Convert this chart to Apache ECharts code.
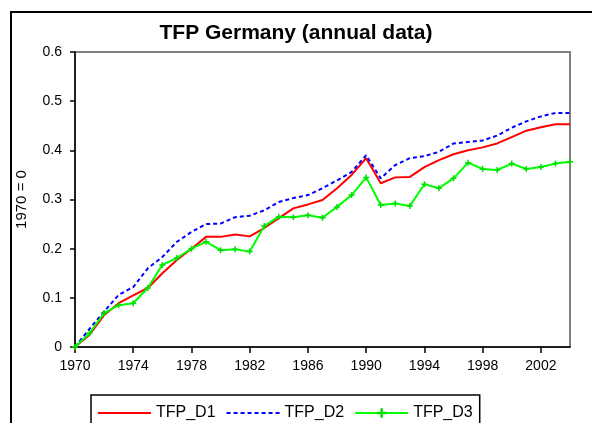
<!DOCTYPE html>
<html>
<head>
<meta charset="utf-8">
<script src="https://cdn.jsdelivr.net/npm/echarts@6/dist/echarts.min.js"></script>
<style>
html, body { margin: 0; padding: 0; background: #fff; }
#charts { width: 592px; height: 423px; }
</style>
</head>
<body>
<div id="charts"></div>
<script>
var years = [];
for (var y = 1970; y <= 2004; y++) years.push(String(y));

var tfpD1 = [0, 0.025, 0.065, 0.089, 0.105, 0.12, 0.15, 0.177, 0.20, 0.224,
	0.224, 0.229, 0.225, 0.242, 0.262, 0.282, 0.29, 0.299, 0.323, 0.35,
	0.384, 0.333, 0.345, 0.346, 0.366, 0.38, 0.392, 0.40, 0.406, 0.414,
	0.427, 0.44, 0.447, 0.453, 0.453];
var tfpD2 = [0, 0.037, 0.072, 0.106, 0.122, 0.16, 0.183, 0.214, 0.234, 0.25,
	0.251, 0.264, 0.267, 0.278, 0.295, 0.303, 0.309, 0.323, 0.339, 0.356,
	0.39, 0.343, 0.37, 0.384, 0.388, 0.397, 0.414, 0.417, 0.42, 0.43,
	0.446, 0.459, 0.469, 0.476, 0.476];
var tfpD3 = [0, 0.028, 0.069, 0.085, 0.089, 0.12, 0.167, 0.181, 0.20, 0.214,
	0.197, 0.199, 0.194, 0.246, 0.265, 0.264, 0.268, 0.263, 0.285, 0.309,
	0.345, 0.289, 0.292, 0.287, 0.331, 0.323, 0.343, 0.375, 0.362, 0.36,
	0.373, 0.362, 0.366, 0.373, 0.377];
var seriesNames = ['TFP_D1', 'TFP_D2', 'TFP_D3'];

var fontName = '"Liberation Sans", Arial, sans-serif';
var plusSymbol = 'path://M1.5,0H2.5V1.5H4V2.5H2.5V4H1.5V2.5H0V1.5H1.5Z';

var charts = echarts.init(document.getElementById('charts'));
var option = {
	animation: false,
	backgroundColor: '#fff',
	textStyle: { fontFamily: fontName },
	title: {
		text: 'TFP Germany (annual data)',
		left: 'center',
		top: 18,
		textStyle: { fontSize: 21, fontWeight: 'bold', color: '#000', fontFamily: fontName }
	},
	graphic: [{
		type: 'rect',
		shape: { x: 11, y: 12, width: 620, height: 450 },
		style: { fill: null, stroke: '#000', lineWidth: 2 },
		silent: true
	}],
	legend: {
		data: [
			{ name: seriesNames[0], itemStyle: { opacity: 0 } },
			{ name: seriesNames[1], itemStyle: { opacity: 0 } },
			{ name: seriesNames[2] }
		],
		left: 91,
		top: 395,
		width: 400,
		padding: [10, 7, 20, 6],
		itemWidth: 53,
		itemHeight: 12,
		itemGap: 10,
		borderColor: '#000',
		borderWidth: 1.5,
		textStyle: { fontSize: 16, color: '#000', fontFamily: fontName }
	},
	grid: {
		left: 75, top: 52, right: 22, bottom: 76,
		show: true, borderColor: '#808080', borderWidth: 2
	},
	xAxis: {
		type: 'category',
		data: years,
		boundaryGap: false,
		axisLine: { lineStyle: { color: '#000', width: 1.5 } },
		axisTick: { show: true, interval: 3, length: 6, lineStyle: { color: '#000', width: 1.5 } },
		axisLabel: { interval: 3, color: '#000', fontSize: 14, margin: 12 },
		splitLine: { show: false }
	},
	yAxis: {
		type: 'value',
		min: 0, max: 0.6, interval: 0.1,
		name: '1970 = 0',
		nameLocation: 'middle',
		nameGap: 46,
		nameTextStyle: { color: '#000', fontSize: 15 },
		axisLine: { show: true, lineStyle: { color: '#000', width: 1.5 } },
		axisTick: { show: true, length: 5, lineStyle: { color: '#000', width: 1.5 } },
		axisLabel: { color: '#000', fontSize: 14, margin: 13,
			formatter: function (v) { return v === 0 ? '0' : v.toFixed(1); } },
		splitLine: { show: false }
	},
	series: [{
		name: seriesNames[0], type: 'line', data: tfpD1,
		symbol: 'none', color: '#ff0000',
		lineStyle: { width: 2, color: '#ff0000' }
	}, {
		name: seriesNames[1], type: 'line', data: tfpD2,
		symbol: 'none', color: '#0000ff',
		lineStyle: { width: 2, color: '#0000ff', type: [4, 3] }
	}, {
		name: seriesNames[2], type: 'line', data: tfpD3,
		symbol: plusSymbol, symbolSize: 6, showSymbol: true, color: '#00ff00',
		itemStyle: { color: '#00dd00' },
		lineStyle: { width: 2, color: '#00ff00' }
	}]
};
charts.setOption(option);
</script>
</body>
</html>
